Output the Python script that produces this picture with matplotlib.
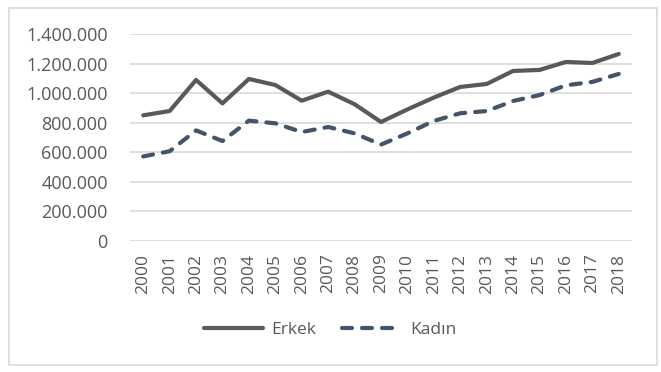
import matplotlib.pyplot as plt
from matplotlib.patches import Rectangle

# data
years = [str(y) for y in range(2000, 2019)]
erkek = [850000, 879000, 1089000, 931000, 1096000, 1055000, 949000, 1010000, 925000, 805000,
         890000, 970000, 1042000, 1062000, 1150000, 1157000, 1211000, 1204000, 1265000]
kadin = [572000, 607000, 748000, 676000, 814000, 796000, 737000, 771000, 728000, 652000,
         728000, 812000, 864000, 879000, 947000, 987000, 1053000, 1076000, 1130000]
yticks = [0, 200000, 400000, 600000, 800000, 1000000, 1200000, 1400000]

plt.rcParams['font.family'] = ['Open Sans', 'DejaVu Sans']

W, H = 661, 372
fig = plt.figure(figsize=(W / 100, H / 100), dpi=100)
fig.patches.append(Rectangle((9 / W, 1 - 364.5 / H), 648 / W, 356.5 / H,
                             transform=fig.transFigure, fill=False,
                             edgecolor='#D9D9D9', lw=1.2))

ax = fig.add_axes([130 / W, 1 - 241 / H, 502 / W, 207 / H])
x = list(range(len(years)))
ax.plot(x, erkek, color='#595959', lw=3, solid_capstyle='round', label='Erkek', zorder=3)
ax.plot(x, kadin, color='#44546A', lw=3, linestyle=(0, (2.4, 2.4)),
        dash_capstyle='round', label='Kad\u0131n', zorder=3)

ax.set_xlim(-0.5, len(years) - 0.5)
ax.set_ylim(0, 1400000)
ax.set_yticks(yticks)
ax.set_yticklabels(['{:,}'.format(v).replace(',', '.') for v in yticks])
ax.set_xticks(x)
ax.set_xticklabels(years, rotation=90)
ax.tick_params(axis='both', length=0, colors='#595959', labelsize=12.5)
ax.tick_params(axis='y', labelsize=13, pad=16)
ax.tick_params(axis='x', pad=9)
ax.grid(axis='y', color='#D9D9D9', lw=1.2)
ax.set_axisbelow(True)
for s in ax.spines.values():
    s.set_visible(False)

leg = fig.legend(loc='center', bbox_to_anchor=(330 / W, 1 - 330 / H), ncol=2, frameon=False,
                 fontsize=12.5, handlelength=3.4, columnspacing=1.5, handletextpad=0.5)
for t in leg.get_texts():
    t.set_color('#595959')

fig.savefig('out.png', dpi=100)
